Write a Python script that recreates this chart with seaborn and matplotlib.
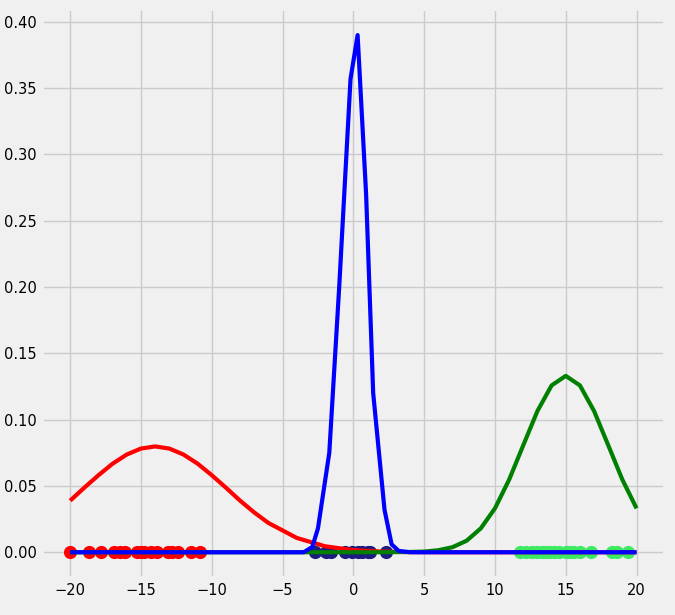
import numpy as np
import matplotlib
matplotlib.use("Agg")
import matplotlib.pyplot as plt
import seaborn as sns

plt.style.use("fivethirtyeight")

red_x = [-20, -19, -18, -17, -16, -15, -14, -13, -12, -11, -10, -9, -8, -7, -6, -4, -2, 0, 2, 4, 6, 20]
red_y = [0.0389, 0.0487, 0.0581, 0.0668, 0.0737, 0.0782, 0.0798, 0.0782, 0.0737, 0.0668,
         0.0581, 0.0487, 0.0389, 0.0300, 0.0221, 0.0108, 0.0045, 0.0016, 0.0005, 0.0001, 0.0, 0.0]

green_x = [-20, 2, 3, 4, 5, 6, 7, 8, 9, 10, 11, 12, 13, 14, 15, 16, 17, 18, 19, 20]
green_y = [0.0, 0.0, 0.0001, 0.0002, 0.0005, 0.0015, 0.0038, 0.0087, 0.018, 0.0331, 0.0547,
           0.0807, 0.1065, 0.1258, 0.133, 0.1258, 0.1065, 0.0807, 0.0547, 0.0331]

blue_x = [-20, -3.5, -2.9, -2.5, -1.7, -1.0, -0.2, 0.3, 0.9, 1.4, 2.2, 2.7, 3.2, 4, 20]
blue_y = [0.0, 0.0, 0.004, 0.018, 0.075, 0.20, 0.357, 0.39, 0.27, 0.12, 0.032, 0.006, 0.001, 0.0, 0.0]

red_pts = [-20, -18.7, -17.8, -16.9, -16.5, -16.1, -15.3, -15.0, -14.8, -14.3, -13.9,
           -13.1, -12.8, -12.4, -11.5, -10.8]
green_pts = [11.8, 12.2, 12.6, 13.0, 13.3, 13.6, 13.9, 14.2, 14.5, 15.0, 15.3, 15.6,
             16.0, 16.8, 18.3, 18.6, 19.4]
blue_pts = [-2.7, -1.9, -1.6, -0.6, -0.1, 0.3, 0.6, 1.0, 1.2, 2.3]

fig, ax = plt.subplots(figsize=(6.75, 6.15), dpi=100)

sns.scatterplot(x=red_pts, y=np.zeros(len(red_pts)), color="red", s=90, linewidth=0, ax=ax, zorder=3)
sns.scatterplot(x=green_pts, y=np.zeros(len(green_pts)), color="#3dea62", s=90, linewidth=0, ax=ax, zorder=3)
sns.scatterplot(x=blue_pts, y=np.zeros(len(blue_pts)), color="#1c1c80", s=90, linewidth=0, ax=ax, zorder=3)

sns.lineplot(x=red_x, y=red_y, color="red", linewidth=3, ax=ax, zorder=4)
sns.lineplot(x=green_x, y=green_y, color="green", linewidth=3, ax=ax, zorder=4)
sns.lineplot(x=blue_x, y=blue_y, color="blue", linewidth=3, ax=ax, zorder=5)

ax.set_xticks(np.arange(-20, 21, 5))
ax.set_yticks(np.arange(0, 0.41, 0.05))
ax.tick_params(labelsize=10.5)

fig.subplots_adjust(left=0.062, right=0.985, top=0.985, bottom=0.06)
fig.savefig("out.png", dpi=100)
